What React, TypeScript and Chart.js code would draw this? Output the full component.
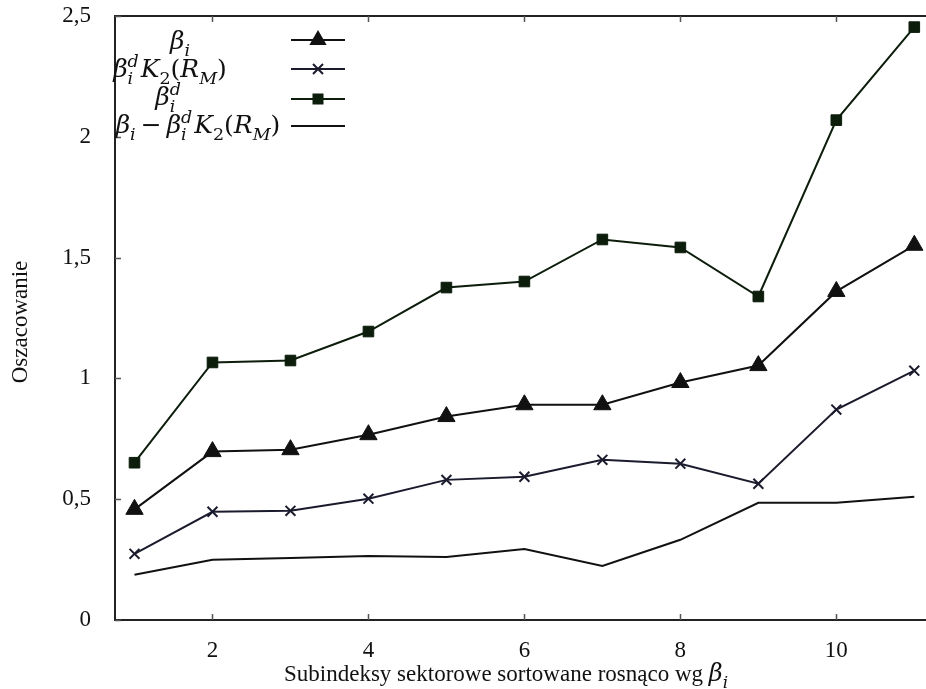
import React, { useEffect, useRef } from 'react';
import { Chart, registerables } from 'chart.js';

Chart.register(...registerables);

// ---- data ----
const sectors = [1, 2, 3, 4, 5, 6, 7, 8, 9, 10, 11];
const betaI = [0.458, 0.697, 0.705, 0.767, 0.842, 0.891, 0.891, 0.983, 1.053, 1.36, 1.551];
const betaDK2 = [0.274, 0.448, 0.452, 0.502, 0.58, 0.593, 0.663, 0.647, 0.564, 0.871, 1.032];
const betaD = [0.651, 1.066, 1.074, 1.194, 1.376, 1.401, 1.575, 1.542, 1.339, 2.069, 2.454];
const diffSeries = [0.187, 0.249, 0.257, 0.265, 0.261, 0.294, 0.224, 0.332, 0.485, 0.485, 0.51];
const xTicks = [2, 4, 6, 8, 10];
const yTicks = [0, 0.5, 1, 1.5, 2, 2.5];
const yTickLabels = ['0', '0,5', '1', '1,5', '2', '2,5'];
const xTitle = 'Subindeksy sektorowe sortowane rosnąco wg ';
const yTitle = 'Oszacowanie';

const C_TRI = '#111111';
const C_CROSS = '#1b1b2e';
const C_SQ = '#0c1d0c';
const C_PLAIN = '#111111';

type Tok = { k: 'b' | 'sub' | 'sup' | 'ss' | 'sp'; t?: string; t2?: string; it?: boolean; w?: number };

const MATH_FAM = '"DejaVu Serif"';

function drawMath(ctx: CanvasRenderingContext2D, x0: number, base: number, toks: Tok[], size: number, dry: boolean) {
  const s2 = size * 0.7;
  const f = (s: number, it?: boolean) => `${it ? 'italic ' : ''}${s}px ${MATH_FAM}`;
  let x = x0;
  ctx.textAlign = 'left';
  ctx.textBaseline = 'alphabetic';
  for (const tk of toks) {
    if (tk.k === 'sp') {
      x += tk.w || 0;
      continue;
    }
    if (tk.k === 'b') {
      ctx.font = f(size, tk.it);
      if (!dry) ctx.fillText(tk.t!, x, base);
      x += ctx.measureText(tk.t!).width;
    } else if (tk.k === 'sub') {
      ctx.font = f(s2, tk.it);
      if (!dry) ctx.fillText(tk.t!, x, base + size * 0.28);
      x += ctx.measureText(tk.t!).width;
    } else if (tk.k === 'sup') {
      ctx.font = f(s2, tk.it);
      if (!dry) ctx.fillText(tk.t!, x, base - size * 0.42);
      x += ctx.measureText(tk.t!).width;
    } else if (tk.k === 'ss') {
      ctx.font = f(s2, tk.it);
      if (!dry) {
        ctx.fillText(tk.t!, x, base + size * 0.28);
        ctx.fillText(tk.t2!, x, base - size * 0.42);
      }
      x += Math.max(ctx.measureText(tk.t!).width, ctx.measureText(tk.t2!).width);
    }
  }
  return x - x0;
}

const rowBeta: Tok[] = [{ k: 'b', t: 'β', it: true }, { k: 'sub', t: 'i', it: true }];
const rowBetaDK: Tok[] = [
  { k: 'b', t: 'β', it: true },
  { k: 'ss', t: 'i', t2: 'd', it: true },
  { k: 'sp', w: 2 },
  { k: 'b', t: 'K', it: true },
  { k: 'sub', t: '2' },
  { k: 'b', t: '(' },
  { k: 'b', t: 'R', it: true },
  { k: 'sub', t: 'M', it: true },
  { k: 'b', t: ')' },
];
const rowBetaD: Tok[] = [{ k: 'b', t: 'β', it: true }, { k: 'ss', t: 'i', t2: 'd', it: true }];
const rowDiff: Tok[] = [
  { k: 'b', t: 'β', it: true },
  { k: 'sub', t: 'i', it: true },
  { k: 'sp', w: 5 },
  { k: 'b', t: '−' },
  { k: 'sp', w: 5 },
  ...rowBetaDK,
];

function drawMarker(ctx: CanvasRenderingContext2D, kind: string, x: number, y: number, color: string) {
  ctx.save();
  ctx.fillStyle = color;
  ctx.strokeStyle = color;
  if (kind === 'tri') {
    const r = 10;
    ctx.beginPath();
    ctx.moveTo(x, y - r);
    ctx.lineTo(x + r * 0.866, y + r / 2);
    ctx.lineTo(x - r * 0.866, y + r / 2);
    ctx.closePath();
    ctx.fill();
  } else if (kind === 'sq') {
    ctx.fillRect(x - 5.5, y - 5.5, 11, 11);
  } else if (kind === 'x') {
    ctx.lineWidth = 2;
    ctx.beginPath();
    ctx.moveTo(x - 5, y - 5);
    ctx.lineTo(x + 5, y + 5);
    ctx.moveTo(x + 5, y - 5);
    ctx.lineTo(x - 5, y + 5);
    ctx.stroke();
  }
  ctx.restore();
}

const decorPlugin = {
  id: 'decor',
  afterDraw(chart: any) {
    const { ctx, chartArea: ca, scales } = chart;
    const xs = scales.x;
    const ys = scales.y;
    ctx.save();
    // top frame
    ctx.strokeStyle = '#222';
    ctx.lineWidth = 2;
    ctx.beginPath();
    ctx.moveTo(ca.left, ca.top);
    ctx.lineTo(ca.right, ca.top);
    ctx.stroke();
    // inward ticks
    ctx.strokeStyle = '#555';
    ctx.lineWidth = 1.5;
    ctx.beginPath();
    for (const v of xTicks) {
      const px = Math.round(xs.getPixelForValue(v)) + 0.5;
      ctx.moveTo(px, ca.bottom);
      ctx.lineTo(px, ca.bottom - 6);
      ctx.moveTo(px, ca.top);
      ctx.lineTo(px, ca.top + 6);
    }
    for (const v of yTicks) {
      const py = Math.round(ys.getPixelForValue(v)) + 0.5;
      ctx.moveTo(ca.left, py);
      ctx.lineTo(ca.left + 6, py);
    }
    ctx.stroke();

    // y title
    ctx.fillStyle = '#111';
    ctx.save();
    ctx.translate(21, 322);
    ctx.rotate(-Math.PI / 2);
    ctx.textAlign = 'center';
    ctx.textBaseline = 'middle';
    ctx.font = '23px "Liberation Serif"';
    ctx.fillText(yTitle, 0, 0);
    ctx.restore();

    // x title
    ctx.font = '23px "Liberation Serif"';
    ctx.textAlign = 'left';
    ctx.textBaseline = 'alphabetic';
    const w = ctx.measureText(xTitle).width;
    const bw = drawMath(ctx, 0, 0, rowBeta, 24, true);
    const startX = 506 - (w + bw) / 2;
    ctx.font = '23px "Liberation Serif"';
    ctx.fillText(xTitle, startX, 681);
    drawMath(ctx, startX + w, 681, rowBeta, 24, false);

    // legend
    const rows: { toks: Tok[]; cx: number; base: number; ly: number; marker: string; color: string }[] = [
      { toks: rowBeta, cx: 180, base: 49, ly: 40, marker: 'tri', color: C_TRI },
      { toks: rowBetaDK, cx: 170, base: 77, ly: 69, marker: 'x', color: C_CROSS },
      { toks: rowBetaD, cx: 168, base: 105, ly: 99, marker: 'sq', color: C_SQ },
      { toks: rowDiff, cx: 198, base: 133, ly: 126, marker: '', color: C_PLAIN },
    ];
    const size = 25;
    for (const r of rows) {
      ctx.fillStyle = '#111';
      const rw = drawMath(ctx, 0, 0, r.toks, size, true);
      drawMath(ctx, r.cx - rw / 2, r.base, r.toks, size, false);
      ctx.strokeStyle = r.color;
      ctx.lineWidth = 2;
      ctx.beginPath();
      ctx.moveTo(291, r.ly);
      ctx.lineTo(345, r.ly);
      ctx.stroke();
      if (r.marker) drawMarker(ctx, r.marker, 318, r.ly, r.color);
    }
    ctx.restore();
  },
};

function toXY(vals: number[]) {
  return sectors.map((s, i) => ({ x: s, y: vals[i] }));
}

export default function App() {
  const ref = useRef<HTMLCanvasElement | null>(null);
  useEffect(() => {
    document.body.style.margin = '0';
    const canvas = ref.current!;
    const chart = new Chart(canvas, {
      type: 'line',
      data: {
        datasets: [
          {
            label: 'beta_i',
            data: toXY(betaI),
            borderColor: C_TRI,
            backgroundColor: C_TRI,
            borderWidth: 2,
            pointStyle: 'triangle',
            pointRadius: 10,
            pointBorderWidth: 1,
            pointBackgroundColor: C_TRI,
            pointBorderColor: C_TRI,
          },
          {
            label: 'beta_i^d K2(RM)',
            data: toXY(betaDK2),
            borderColor: C_CROSS,
            backgroundColor: C_CROSS,
            borderWidth: 2,
            pointStyle: 'crossRot',
            pointRadius: 7,
            pointBorderWidth: 2,
            pointBorderColor: C_CROSS,
          },
          {
            label: 'beta_i^d',
            data: toXY(betaD),
            borderColor: C_SQ,
            backgroundColor: C_SQ,
            borderWidth: 2,
            pointStyle: 'rect',
            pointRadius: 7.5,
            pointBorderWidth: 1,
            pointBackgroundColor: C_SQ,
            pointBorderColor: C_SQ,
          },
          {
            label: 'beta_i - beta_i^d K2(RM)',
            data: toXY(diffSeries),
            borderColor: C_PLAIN,
            borderWidth: 2,
            pointRadius: 0,
          },
        ],
      },
      options: {
        responsive: false,
        animation: false,
        devicePixelRatio: 1,
        layout: { autoPadding: false, padding: { top: 16, left: 0, right: 0, bottom: 0 } },
        plugins: { legend: { display: false }, tooltip: { enabled: false } },
        elements: { line: { tension: 0 } },
        scales: {
          x: {
            type: 'linear',
            min: 0.75,
            max: 11.15,
            grid: { display: false, drawTicks: false },
            border: { display: true, color: '#222', width: 2 },
            afterBuildTicks: (s: any) => {
              s.ticks = xTicks.map((v) => ({ value: v }));
            },
            afterFit: (s: any) => {
              s.height = 69;
              s.paddingLeft = 0;
              s.paddingRight = 0;
            },
            ticks: {
              color: '#111',
              padding: 17,
              maxRotation: 0,
              autoSkip: false,
              font: { family: '"Liberation Serif"', size: 23 },
              callback: (v: any) => String(v),
            },
          },
          y: {
            type: 'linear',
            min: 0,
            max: 2.5,
            grid: { display: false, drawTicks: false },
            border: { display: true, color: '#222', width: 2 },
            afterBuildTicks: (s: any) => {
              s.ticks = yTicks.map((v) => ({ value: v }));
            },
            afterFit: (s: any) => {
              s.width = 115;
              s.paddingTop = 0;
              s.paddingBottom = 0;
            },
            ticks: {
              color: '#111',
              padding: 24,
              autoSkip: false,
              font: { family: '"Liberation Serif"', size: 23 },
              callback: (v: any) => {
                const i = yTicks.indexOf(Number(v));
                return i >= 0 ? yTickLabels[i] : '';
              },
            },
          },
        },
      },
      plugins: [decorPlugin],
    });
    return () => chart.destroy();
  }, []);
  return (
    <div style={{ width: 926, height: 689 }}>
      <canvas ref={ref} width={926} height={689} style={{ display: 'block' }} />
    </div>
  );
}
